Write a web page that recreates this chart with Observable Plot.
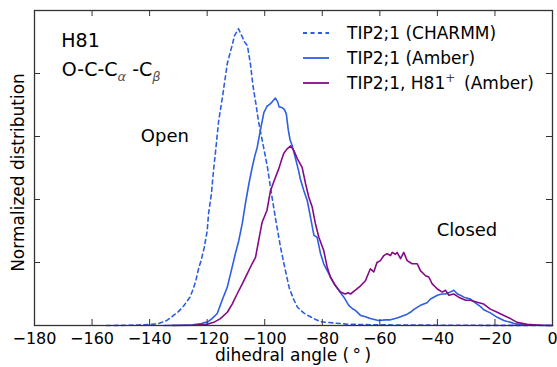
<!DOCTYPE html>
<html><head><meta charset="utf-8">
<script src="https://cdn.jsdelivr.net/npm/d3@7"></script>
<script src="https://cdn.jsdelivr.net/npm/@observablehq/plot@0.6"></script>
<style>
body{margin:0;background:#fff;}
#chart{position:relative;width:557px;height:367px;font-family:"DejaVu Sans",sans-serif;}
</style></head><body><div id="chart"></div>
<script>
// dihedral angle (deg), normalized distribution (arbitrary units)
const charmm = [[-155,0],[-148,0.003],[-144,0.008],[-140,0.015],[-137,0.03],[-134,0.08],[-131.7,0.16],[-130,0.22],[-128,0.32],[-126,0.45],[-125,0.56],[-124,0.7],[-123,0.9],[-122,1.05],[-121,1.24],[-120,1.5],[-119.5,1.78],[-118.5,2.1],[-117.8,2.46],[-117,2.8],[-116,3.25],[-114.7,3.62],[-113,4.16],[-111.2,4.47],[-110.5,4.6],[-109.1,4.71],[-108,4.6],[-107,4.5],[-106,4.44],[-105,4.16],[-104,3.78],[-103,3.5],[-102.2,3.25],[-100.4,2.83],[-99,2.5],[-98,2.19],[-96.3,1.71],[-94.5,1.24],[-92.8,0.87],[-91.5,0.6],[-90,0.42],[-88.6,0.29],[-86.5,0.2],[-85,0.16],[-82.5,0.1],[-80.6,0.06],[-76,0.04],[-71,0.02],[-60,0.01],[-40,0.005],[-20,0.002],[0,0]];
const amber = [[-135,0],[-130,0.005],[-125,0.01],[-122,0.03],[-120.6,0.05],[-120,0.05],[-118.3,0.11],[-116.5,0.19],[-114.8,0.4],[-113,0.61],[-111.3,0.93],[-110.2,1.14],[-109,1.35],[-107.8,1.62],[-106.7,1.94],[-105.5,2.25],[-104.4,2.5],[-103.5,2.68],[-102.6,2.83],[-101.5,3.1],[-100.3,3.38],[-99.2,3.48],[-98.3,3.51],[-97.4,3.55],[-96.3,3.61],[-95.5,3.55],[-95,3.47],[-94,3.46],[-93.2,3.43],[-92.5,3.36],[-91.8,3.1],[-91.2,2.95],[-90.5,2.86],[-89.3,2.65],[-88.2,2.45],[-87.6,2.32],[-86.4,2.14],[-85.2,1.98],[-84.1,1.72],[-82.9,1.43],[-81.8,1.4],[-80.6,1.14],[-79.5,0.98],[-77.7,0.82],[-76,0.67],[-74.3,0.56],[-72.5,0.45],[-70.8,0.32],[-69.6,0.27],[-68.5,0.24],[-66.7,0.16],[-65,0.14],[-63.3,0.11],[-60.5,0.08],[-58,0.09],[-56.3,0.09],[-54,0.12],[-52.8,0.14],[-50.5,0.18],[-49.4,0.21],[-48,0.26],[-45.9,0.32],[-43.6,0.36],[-42.4,0.42],[-40,0.48],[-38.5,0.5],[-37.2,0.5],[-35.5,0.53],[-34.3,0.56],[-33,0.5],[-32,0.48],[-30.8,0.45],[-28.5,0.42],[-26.2,0.34],[-25,0.3],[-23.9,0.25],[-21.6,0.2],[-19.2,0.13],[-16.9,0.08],[-14.6,0.05],[-13.4,0.03],[-11,0.015],[-8,0.008],[-4,0.003],[0,0]];
const h81plus = [[-132,0],[-125,0.005],[-120,0.02],[-117.7,0.05],[-115.4,0.11],[-113,0.21],[-111.3,0.34],[-109.6,0.5],[-107.8,0.66],[-106.1,0.82],[-104.4,0.98],[-103.2,1.08],[-102.1,1.35],[-100.9,1.64],[-99.2,1.83],[-98,2.14],[-96.3,2.35],[-95.1,2.49],[-94,2.65],[-93.4,2.73],[-92.3,2.8],[-91,2.85],[-89.9,2.78],[-88.7,2.65],[-87,2.51],[-85.8,2.25],[-84.7,2.04],[-83.5,1.88],[-82.4,1.62],[-81.2,1.4],[-79.5,1.19],[-78.3,0.93],[-77.2,0.77],[-75.4,0.63],[-73.7,0.53],[-72,0.5],[-71,0.52],[-70.2,0.5],[-68.5,0.56],[-66.7,0.63],[-65,0.71],[-63.3,0.9],[-62.1,0.85],[-61,1.0],[-59.8,1.03],[-58.6,1.11],[-57.5,1.14],[-56.3,1.11],[-55.7,1.16],[-54.6,1.13],[-54,1.16],[-52.8,1.06],[-51.7,1.16],[-50.5,1.03],[-48.8,0.98],[-47,0.98],[-45.9,0.87],[-44.1,0.79],[-43,0.77],[-41.8,0.66],[-40,0.58],[-38.3,0.53],[-37.2,0.56],[-36,0.48],[-34.3,0.5],[-32.6,0.45],[-30.2,0.4],[-28.5,0.4],[-26.2,0.37],[-23.9,0.34],[-21.6,0.26],[-19.2,0.21],[-16.9,0.16],[-14.6,0.11],[-12.3,0.05],[-8.8,0.02],[-4.2,0.005],[0,0]];

const seriesNames = ["TIP2;1 (CHARMM)", "TIP2;1 (Amber)", "TIP2;1, H81"];
const seriesColors = ["#2c5fe2", "#2c5fe2", "#850a85"];
const seriesDash = ["4,3.5", null, null];
const xTicks = [-180,-160,-140,-120,-100,-80,-60,-40,-20,0];
const yTicks = [0,1,2,3,4,5];
const notes = [
  {text: "H81", x: -170.7, y: 4.52, size: 19},
  {text: "O-C-C", x: -170.5, y: 4.06, size: 19},
  {text: "Open", x: -134.7, y: 3.0, size: 18},
  {text: "Closed", x: -29.7, y: 1.51, size: 18}
];
const xLabel = "dihedral angle (\u2009°\u2009)";
const yLabel = "Normalized distribution";

const W = 557, H = 367, mL = 34, mR = 5, mT = 10, mB = 42;
const innerW = W - mL - mR, innerH = H - mT - mB;
const tickLen = 6;
const series = [charmm, amber, h81plus];
const fmt = d => (d < 0 ? "\u2212" + (-d) : String(d));

const marks = [];
series.forEach((s, i) => {
  marks.push(Plot.line(s, {x: d => d[0], y: d => d[1], stroke: seriesColors[i], strokeWidth: 1.6,
    strokeDasharray: seriesDash[i] || undefined, curve: "linear"}));
});
marks.push(
  Plot.ruleX(xTicks, {x: d => d, insetTop: innerH - tickLen, stroke: "#333"}),
  Plot.ruleX(xTicks, {x: d => d, insetBottom: innerH - tickLen, stroke: "#333"}),
  Plot.ruleY(yTicks, {y: d => d, insetRight: innerW - tickLen, stroke: "#333"}),
  Plot.ruleY(yTicks, {y: d => d, insetLeft: innerW - tickLen, stroke: "#333"}),
  Plot.frame({stroke: "#333", strokeWidth: 1.3}),
  // x tick labels
  Plot.text(xTicks, {x: d => d, frameAnchor: "bottom", lineAnchor: "top", dy: 7, text: fmt,
    fontSize: 16, fill: "#000"}),
  Plot.axisX({ticks: [], label: null}),
  Plot.axisY({ticks: [], label: null}),
  Plot.text(notes, {x: "x", y: "y", text: "text", fontSize: d => d.size, textAnchor: "start",
    lineAnchor: "middle", fill: "#000", filter: d => d.text === "H81" || d.text === "O-C-C"}),
  Plot.text(notes, {x: "x", y: "y", text: "text", fontSize: d => d.size, textAnchor: "middle",
    lineAnchor: "middle", fill: "#000", filter: d => d.text === "Open" || d.text === "Closed"})
);

const plot = Plot.plot({
  width: W, height: H, marginLeft: mL, marginRight: mR, marginTop: mT, marginBottom: mB,
  style: {fontFamily: "'DejaVu Sans', sans-serif", fontSize: "16px", background: "#fff", color: "#000"},
  x: {domain: [-180, 0]},
  y: {domain: [0, 5]},
  marks
});
document.getElementById("chart").appendChild(plot);

const svg = d3.select(plot);

// subscripts for the dihedral name
svg.selectAll("text").filter(function () { return this.textContent === "O-C-C"; }).each(function () {
  const t = d3.select(this);
  const sub = {"font-size": "13px", "font-style": "italic", fill: "#555"};
  let a = t.append("tspan").attr("dy", "5").text("α"); Object.entries(sub).forEach(([k, v]) => a.style(k, v));
  t.append("tspan").attr("dy", "-5").text(" -C");
  let b = t.append("tspan").attr("dy", "5").text("β"); Object.entries(sub).forEach(([k, v]) => b.style(k, v));
});

// axis labels
svg.append("text").attr("x", mL + innerW / 2).attr("y", 361).attr("text-anchor", "middle")
  .style("font-size", "17px").attr("fill", "#000").text(xLabel);
svg.append("text").attr("transform", `translate(24,${mT + innerH / 2 + 5}) rotate(-90)`)
  .attr("text-anchor", "middle").style("font-size", "17px").attr("fill", "#000").text(yLabel);

// legend
const lg = svg.append("g");
seriesNames.forEach((name, i) => {
  const y = 33 + i * 25;
  lg.append("line").attr("x1", 303).attr("x2", 329).attr("y1", y).attr("y2", y)
    .attr("stroke", seriesColors[i]).attr("stroke-width", 1.8)
    .attr("stroke-dasharray", seriesDash[i]);
  const t = lg.append("text").attr("x", 347).attr("y", y).attr("dy", "0.36em")
    .attr("text-anchor", "start").style("font-size", "17px").attr("fill", "#000").text(name);
  if (i === 2) {
    t.append("tspan").attr("dy", "-7").style("font-size", "12px").attr("fill", "#444").text("+");
    t.append("tspan").attr("dy", "7").text("\u2009 (Amber)");
  }
});
</script></body></html>
